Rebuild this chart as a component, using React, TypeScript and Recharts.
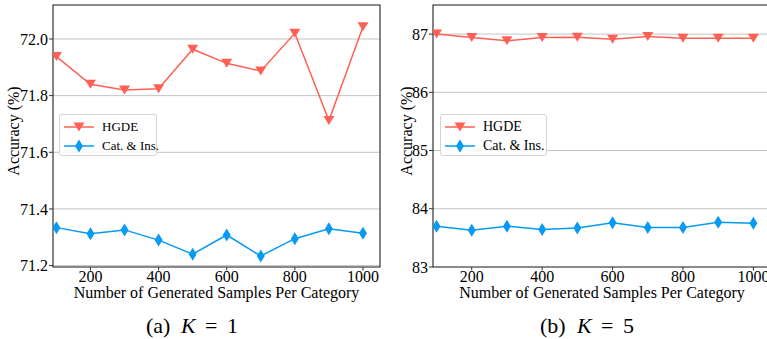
import React from "react";
import {
  LineChart,
  Line,
  XAxis,
  YAxis,
  CartesianGrid,
  ReferenceArea,
  Legend,
} from "recharts";

const samples = [100, 200, 300, 400, 500, 600, 700, 800, 900, 1000];
const hgdeK1 = [71.938, 71.84, 71.82, 71.824, 71.964, 71.914, 71.887, 72.02, 71.712, 72.043];
const catInsK1 = [71.334, 71.312, 71.326, 71.29, 71.24, 71.308, 71.234, 71.295, 71.33, 71.314];
const hgdeK5 = [87.0, 86.94, 86.886, 86.94, 86.945, 86.91, 86.96, 86.93, 86.93, 86.93];
const catInsK5 = [83.7, 83.63, 83.7, 83.645, 83.67, 83.76, 83.68, 83.68, 83.77, 83.75];

const xTicks = [200, 400, 600, 800, 1000];
const yTicksK1 = [71.2, 71.4, 71.6, 71.8, 72.0];
const yTicksK5 = [83, 84, 85, 86, 87];
const seriesNames = ["HGDE", "Cat. & Ins."];

const xLabel = "Number of Generated Samples Per Category";
const yLabel = "Accuracy (%)";

const RED = "#FF6055";
const BLUE = "#069AF3";
const FONT = "Liberation Serif, Times New Roman, DejaVu Serif, serif";
const X_DOMAIN = [90, 1050];

const TriangleDown = ({ cx, cy, w = 11, h = 9, color = RED }: any) => (
  <path
    d={`M${cx - w / 2},${cy - h / 2} L${cx + w / 2},${cy - h / 2} L${cx},${cy + h / 2} Z`}
    fill={color}
  />
);

const ThinDiamond = ({ cx, cy, w = 8, h = 13, color = BLUE }: any) => (
  <path
    d={`M${cx},${cy - h / 2} L${cx + w / 2},${cy} L${cx},${cy + h / 2} L${cx - w / 2},${cy} Z`}
    fill={color}
  />
);

function LegendBox({ payload, width, fontSize }: any) {
  const items = [...(payload || [])].sort(
    (a: any, b: any) => seriesNames.indexOf(a.value) - seriesNames.indexOf(b.value)
  );
  return (
    <div
      style={{
        width,
        height: 42,
        border: "1px solid #d4d4d4",
        borderRadius: 3,
        background: "rgba(255,255,255,0.85)",
        boxSizing: "border-box",
        position: "relative",
        fontFamily: FONT,
        fontSize,
        color: "#000",
      }}
    >
      {items.map((e: any, i: number) => (
        <div
          key={e.value}
          style={{
            position: "absolute",
            left: 0,
            top: 12 + i * 19 - 10,
            height: 20,
            display: "flex",
            alignItems: "center",
            whiteSpace: "nowrap",
          }}
        >
          <svg width={42} height={20}>
            <line x1={4} x2={34} y1={10} y2={10} stroke={e.color} strokeWidth={1.5} />
            {e.value === seriesNames[0] ? (
              <TriangleDown cx={19} cy={10} />
            ) : (
              <ThinDiamond cx={19} cy={10} />
            )}
          </svg>
          <span style={{ lineHeight: "20px" }}>{e.value}</span>
        </div>
      ))}
    </div>
  );
}

function Panel({
  hgde,
  catIns,
  yTicks,
  yDomain,
  fmt,
  width,
  rightMargin,
  yLabelX,
  legendLeft,
  legendWidth,
  legendFont,
}: any) {
  const data = samples.map((x, i) => ({ x, hgde: hgde[i], cat: catIns[i] }));
  return (
    <LineChart
      width={width}
      height={339}
      data={data}
      margin={{ top: 5, right: rightMargin, bottom: 32, left: 0 }}
    >
      <CartesianGrid vertical={false} stroke="#c4c4c4" strokeWidth={1} />
      <XAxis
        type="number"
        dataKey="x"
        domain={X_DOMAIN}
        allowDataOverflow
        ticks={xTicks}
        axisLine={false}
        tickLine={{ stroke: "#333" }}
        tickSize={3.5}
        tickMargin={0}
        height={40}
        tick={{ fill: "#000", fontSize: 16, fontFamily: FONT }}
        label={{
          value: xLabel,
          position: "insideBottom",
          offset: 9,
          fill: "#000",
          fontSize: 16,
          fontFamily: FONT,
        }}
      />
      <YAxis
        type="number"
        domain={yDomain}
        allowDataOverflow
        ticks={yTicks}
        tickFormatter={fmt}
        axisLine={false}
        tickLine={{ stroke: "#333" }}
        tickSize={4}
        tickMargin={1}
        width={53}
        tick={{ fill: "#000", fontSize: 16, fontFamily: FONT }}
        label={{
          content: (p: any) => {
            const vb = p.viewBox || { x: 0, y: 5, height: 262 };
            const cx = vb.x + yLabelX;
            const cy = 131;
            return (
              <text
                x={cx}
                y={cy}
                transform={`rotate(-90 ${cx} ${cy})`}
                textAnchor="middle"
                dominantBaseline="central"
                fontSize={16}
                fontFamily={FONT}
                fill="#000"
              >
                {yLabel}
              </text>
            );
          },
        }}
      />
      <Line
        type="linear"
        dataKey="hgde"
        name={seriesNames[0]}
        stroke={RED}
        strokeWidth={1.5}
        isAnimationActive={false}
        dot={(p: any) => <TriangleDown key={p.index} cx={p.cx} cy={p.cy} />}
        activeDot={false}
      />
      <Line
        type="linear"
        dataKey="cat"
        name={seriesNames[1]}
        stroke={BLUE}
        strokeWidth={1.5}
        isAnimationActive={false}
        dot={(p: any) => <ThinDiamond key={p.index} cx={p.cx} cy={p.cy} />}
        activeDot={false}
      />
      <ReferenceArea
        x1={X_DOMAIN[0]}
        x2={X_DOMAIN[1]}
        y1={yDomain[0]}
        y2={yDomain[1]}
        fill="none"
        stroke="#333"
        strokeWidth={1.2}
        ifOverflow="visible"
      />
      <Legend
        layout="horizontal"
        verticalAlign="middle"
        align="center"
        itemSorter={null as any}
        wrapperStyle={{ left: legendLeft, top: 114, width: legendWidth, height: 42 }}
        content={(p: any) => (
          <LegendBox payload={p.payload} width={legendWidth} fontSize={legendFont} />
        )}
      />
    </LineChart>
  );
}

export default function App() {
  return (
    <div
      style={{
        position: "absolute",
        left: 0,
        top: 0,
        width: 767,
        height: 339,
        overflow: "hidden",
        background: "#fff",
      }}
    >
      <div style={{ position: "absolute", left: 0, top: 0 }}>
        <Panel
          hgde={hgdeK1}
          catIns={catInsK1}
          yTicks={yTicksK1}
          yDomain={[71.195, 72.12]}
          fmt={(v: number) => v.toFixed(1)}
          width={390}
          rightMargin={10}
          yLabelX={13}
          legendLeft={59}
          legendWidth={98}
          legendFont={13}
        />
      </div>
      <div style={{ position: "absolute", left: 380, top: 0 }}>
        <Panel
          hgde={hgdeK5}
          catIns={catInsK5}
          yTicks={yTicksK5}
          yDomain={[83, 87.5]}
          fmt={(v: number) => String(v)}
          width={400}
          rightMargin={9}
          yLabelX={26}
          legendLeft={60}
          legendWidth={107}
          legendFont={14}
        />
      </div>
      <svg
        width={767}
        height={339}
        style={{ position: "absolute", left: 0, top: 0, pointerEvents: "none" }}
        fontFamily={FONT}
        fontSize={22}
      >
        <text y={333} fill="#000">
          <tspan x={146}>(a)</tspan>
          <tspan x={181} fontStyle="italic">K</tspan>
          <tspan x={205}>=</tspan>
          <tspan x={227}>1</tspan>
        </text>
        <text y={333} fill="#000">
          <tspan x={540}>(b)</tspan>
          <tspan x={577} fontStyle="italic">K</tspan>
          <tspan x={601}>=</tspan>
          <tspan x={623}>5</tspan>
        </text>
      </svg>
    </div>
  );
}
